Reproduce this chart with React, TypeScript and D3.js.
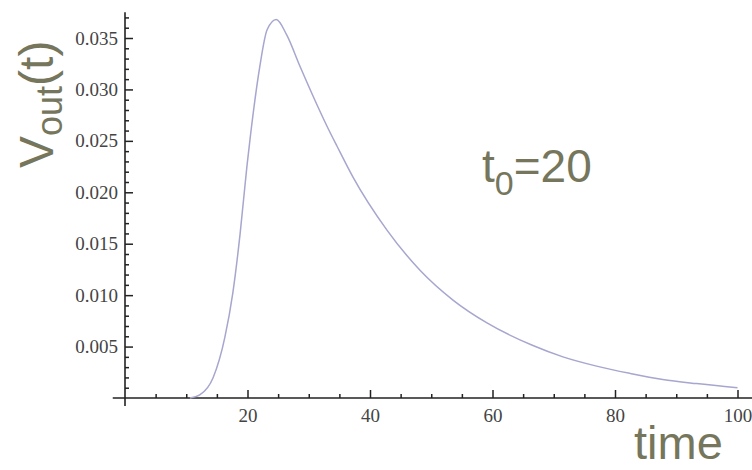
import * as React from 'react'
import * as d3 from 'd3'

// values: output voltage against time, t0 = 20
const times = [10.6, 12.2, 14.4, 16.3, 17.6, 18.8, 19.9, 20.4, 22, 23.2, 24.7, 26.4, 28.6, 33, 34.6, 37.2, 42.8, 48.2, 53.6, 59.1, 66.6, 71.5, 77, 82.4, 87.8, 93.3, 100]
const vout = [0, 0.0003, 0.002, 0.0059, 0.0102, 0.016, 0.0225, 0.0251, 0.0322, 0.0358, 0.0368, 0.0353, 0.0322, 0.0264, 0.0245, 0.0215, 0.0163, 0.0124, 0.0095, 0.0073, 0.0051, 0.004, 0.0031, 0.0024, 0.0018, 0.0014, 0.001]

const xMajor = [20, 40, 60, 80, 100]
const xMinor = [5, 10, 15, 25, 30, 35, 45, 50, 55, 65, 70, 75, 85, 90, 95]
const yMajor = [0.005, 0.01, 0.015, 0.02, 0.025, 0.03, 0.035]
const yMinor = [0.001, 0.002, 0.003, 0.004, 0.006, 0.007, 0.008, 0.009, 0.011, 0.012, 0.013, 0.014, 0.016, 0.017, 0.018, 0.019, 0.021, 0.022, 0.023, 0.024, 0.026, 0.027, 0.028, 0.029, 0.031, 0.032, 0.033, 0.034, 0.036, 0.037]

const W = 752
const H = 470
const labelColor = '#75765c'
const sans = '"Liberation Sans", Arial, sans-serif'
const serif = '"Liberation Serif", "Times New Roman", serif'

export default function App() {
  const ref = React.useRef<SVGSVGElement>(null)

  React.useEffect(() => {
    const svg = d3.select(ref.current)
    svg.selectAll('*').remove()

    const x = d3.scaleLinear().domain([0, 100]).range([125, 737.5])
    const y = d3.scaleLinear().domain([0, 0.035]).range([398, 38])

    const data = times.map((t, i) => ({ t, v: vout[i] }))

    // minor ticks first, no labels
    svg.append('g')
      .attr('transform', `translate(0, ${y(0)})`)
      .call(d3.axisBottom(x).tickValues(xMinor).tickSize(-4).tickFormat(() => ''))
    svg.append('g')
      .attr('transform', `translate(${x(0)}, 0)`)
      .call(d3.axisLeft(y).tickValues(yMinor).tickSize(-4).tickFormat(() => ''))

    svg.append('g')
      .attr('class', 'x axis')
      .attr('transform', `translate(0, ${y(0)})`)
      .call(d3.axisBottom(x).tickValues(xMajor).tickSize(-8).tickPadding(11).tickFormat(d3.format('d')))
    svg.append('g')
      .attr('class', 'y axis')
      .attr('transform', `translate(${x(0)}, 0)`)
      .call(d3.axisLeft(y).tickValues(yMajor).tickSize(-8).tickPadding(7).tickFormat(d3.format('.3f')))

    svg.selectAll('.domain').remove()
    svg.selectAll('.tick line')
      .attr('stroke', '#222')
      .attr('stroke-width', 1.5)
    svg.selectAll('.tick text')
      .attr('fill', '#444')
      .attr('font-family', serif)
      .attr('font-size', 19)

    // axis lines run a little past the origin, like the original
    svg.append('line')
      .attr('x1', x(-2)).attr('x2', x(102.5))
      .attr('y1', y(0)).attr('y2', y(0))
      .attr('stroke', '#222').attr('stroke-width', 1.6)
    svg.append('line')
      .attr('x1', x(0)).attr('x2', x(0))
      .attr('y1', y(0.0375)).attr('y2', y(0) + 8)
      .attr('stroke', '#222').attr('stroke-width', 1.6)

    const line = d3.line<{ t: number, v: number }>()
      .x(d => x(d.t))
      .y(d => y(d.v))
      .curve(d3.curveMonotoneX)

    svg.append('path')
      .datum(data)
      .attr('d', line)
      .attr('fill', 'none')
      .attr('stroke', '#a6a6cf')
      .attr('stroke-width', 1.5)

    // big labels
    const yl = svg.append('text')
      .attr('transform', 'translate(53, 168) rotate(-90)')
      .attr('font-family', sans)
      .attr('font-size', 48)
      .attr('fill', labelColor)
    yl.append('tspan').text('V')
    yl.append('tspan').attr('font-size', 36).attr('dy', 9).text('out')
    yl.append('tspan').attr('dy', -9).text('(t)')

    const t0 = svg.append('text')
      .attr('x', 482)
      .attr('y', 182)
      .attr('font-family', sans)
      .attr('font-size', 46)
      .attr('fill', labelColor)
    t0.append('tspan').text('t')
    t0.append('tspan').attr('font-size', 34).attr('dy', 13).text('0')
    t0.append('tspan').attr('dy', -13).text('=20')

    svg.append('text')
      .attr('x', 634)
      .attr('y', 459)
      .attr('font-family', sans)
      .attr('font-size', 47)
      .attr('fill', labelColor)
      .text('time')
  }, [])

  return (
    <svg
      ref={ref}
      width={W}
      height={H}
      style={{ position: 'absolute', left: 0, top: 0, background: '#fff' }}
    />
  )
}
